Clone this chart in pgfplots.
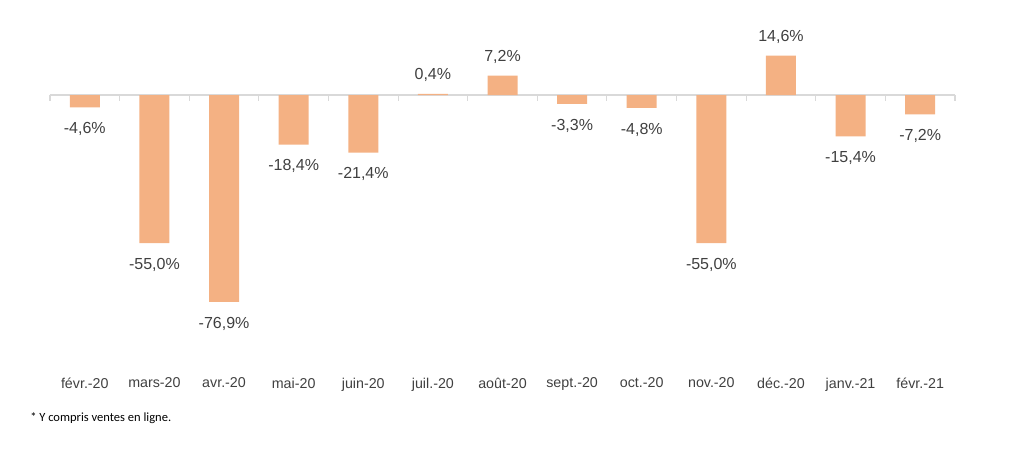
\documentclass[border=0pt]{standalone}
\usepackage{fontspec}
\setmainfont{Liberation Sans}
\newfontfamily\notefont{Carlito}
\usepackage{pgfplots}
\pgfplotsset{compat=1.18}
\definecolor{barorange}{HTML}{F4B183}
\definecolor{txtgray}{HTML}{404040}
\definecolor{axgray}{HTML}{D9D9D9}

\begin{document}
\begin{tikzpicture}
\begin{axis}[
  scale only axis,
  width=678.75pt, height=222pt,
  xmin=-0.5, xmax=12.5,
  ymin=-90, ymax=20,
  axis line style={draw=none},
  ytick=\empty,
  xtick={0,...,12},
  xticklabels={févr.-20, mars-20, avr.-20, mai-20, juin-20, juil.-20, août-20,
    sept.-20, oct.-20, nov.-20, déc.-20, janv.-21, févr.-21},
  major tick length=0pt,
  x tick label style={font=\fontsize{10.7}{12}\selectfont, text=txtgray, yshift=-27pt},
  ybar, bar width=22.5pt,
  nodes near coords={\pgfmathprintnumber[fixed,fixed zerofill,precision=1,use comma,assume math mode=true]{\pgfplotspointmeta}\%},
  nodes near coords align=vertical,
  every node near coord/.append style={font=\fontsize{12}{14}\selectfont, text=txtgray, inner ysep=10pt, yshift=-1pt},
  clip=false,
]
\draw[axgray, line width=0.8pt] (axis cs:-0.5,0) -- (axis cs:12.5,0);
\pgfplotsinvokeforeach{-0.5,0.5,...,12.5}{
  \draw[axgray, line width=0.8pt] (axis cs:#1,0) -- ++(0pt,-4.5pt);
}
\addplot[fill=barorange, draw=none] coordinates {
  (0,-4.6) (1,-55.0) (2,-76.9) (3,-18.4) (4,-21.4) (5,0.4) (6,7.2)
  (7,-3.3) (8,-4.8) (9,-55.0) (10,14.6) (11,-15.4) (12,-7.2)
};
\coordinate (sw) at (rel axis cs:0,0);
\coordinate (ne) at (rel axis cs:1,1);
\end{axis}
\node[anchor=west, font=\notefont\fontsize{9.4}{11}\selectfont, inner sep=0pt]
  at ([shift={(-15pt,-60.75pt)}]sw) {* Y compris ventes en ligne.};
\path ([shift={(-37.5pt,-88.5pt)}]sw) rectangle ([shift={(51.75pt,30.9pt)}]ne);
\end{tikzpicture}
\end{document}
